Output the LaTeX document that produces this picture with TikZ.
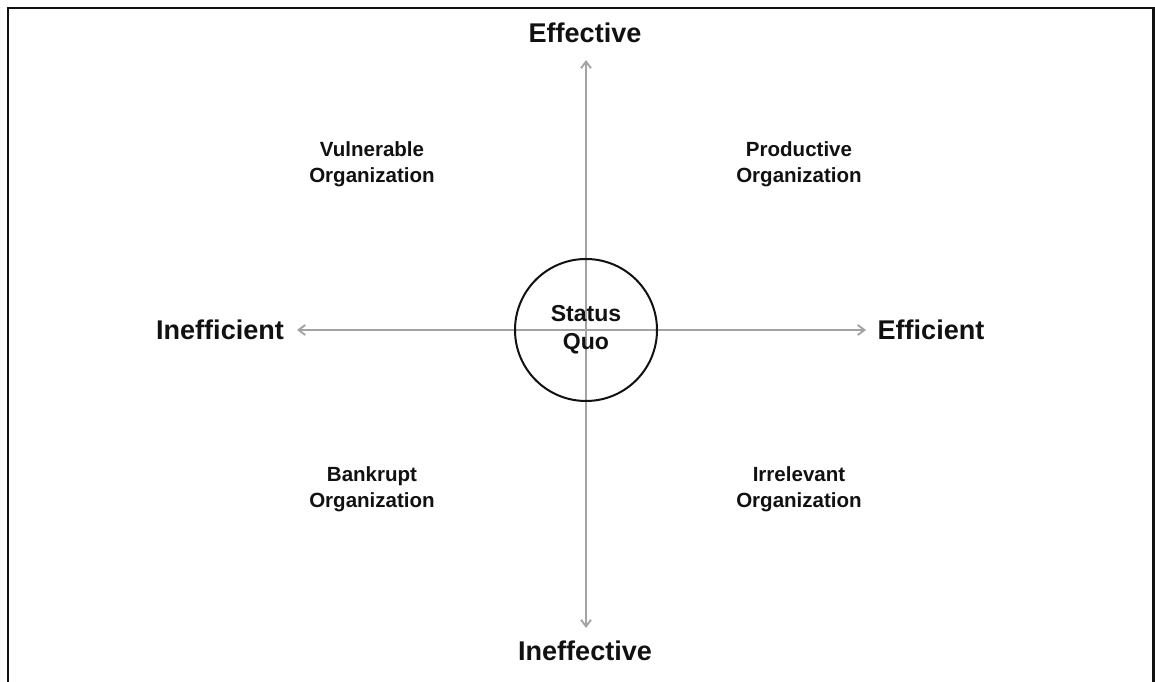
\documentclass[tikz,border=0pt]{standalone}
\usepackage{fontspec}
\setmainfont{Liberation Sans}
\usetikzlibrary{arrows.meta}
\definecolor{axisgray}{HTML}{A3A3A3}
\definecolor{inkblack}{HTML}{111111}

\begin{document}
\begin{tikzpicture}[
  x=0.75pt, y=0.75pt,
  >={Straight Barb[length=5pt, width=7.5pt]},
  axis/.style={<->, draw=axisgray, line width=1.4pt},
  pole/.style={font=\fontsize{20.3}{24}\selectfont\bfseries, text=inkblack},
  quad/.style={font=\fontsize{15.4}{19.5}\selectfont\bfseries,
    text=inkblack, align=center},
  hub/.style={circle, draw=inkblack, line width=1.5pt,
    minimum size=106.5pt, inner sep=0pt,
    font=\fontsize{17.3}{21}\selectfont\bfseries, text=inkblack, align=center},
]

\useasboundingbox (0,0) rectangle (1155,681);

% Frame, open at the bottom
\draw[inkblack, line width=1.9pt] (8,-5) -- (8,673) -- (1153.5,673) -- (1153.5,-5);

% === Axes ===
\coordinate (origin) at (586,351);
\coordinate (ytop)   at (586,621);
\coordinate (ybot)   at (586,53);
\coordinate (xleft)  at (297,351);
\coordinate (xright) at (866,351);

\draw[axis] (xleft) -- (xright);
\draw[axis] (ybot) -- (ytop);

% Centre circle
\node[hub] (statusquo) at (origin) {Status\\Quo};

% === Axis ends ===
\node[pole] (effective)   at (585,648) {Effective};
\node[pole] (ineffective) at (585,30)  {Ineffective};
\node[pole] (efficient)   at (931,351) {Efficient};
\node[pole] (inefficient) at (220,351) {Inefficient};

% === Quadrants ===
\node[quad] (vulnerable) at (372,517) {Vulnerable\\Organization};
\node[quad] (productive) at (799,517) {Productive\\Organization};
\node[quad] (bankrupt)   at (372,192) {Bankrupt\\Organization};
\node[quad] (irrelevant) at (799,192) {Irrelevant\\Organization};

\end{tikzpicture}
\end{document}
